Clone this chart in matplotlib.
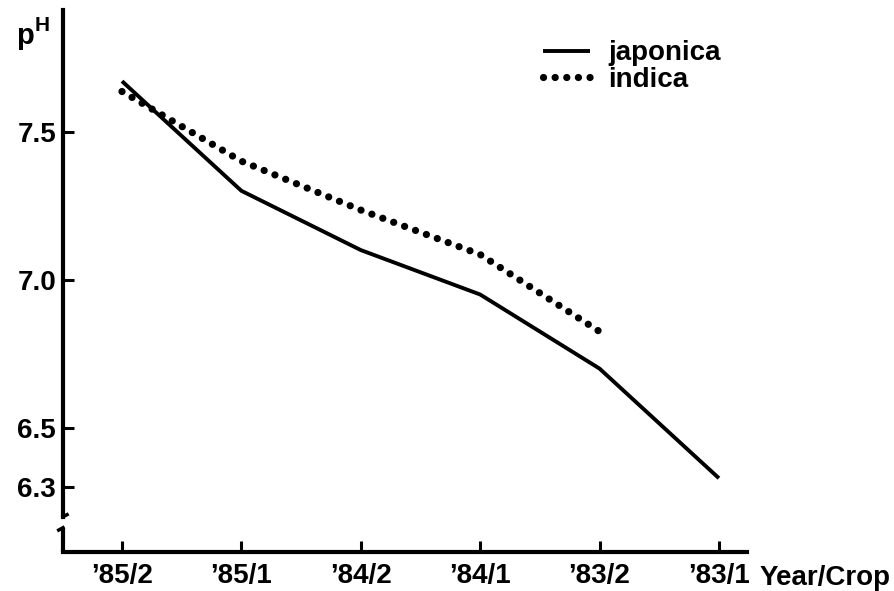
import matplotlib
matplotlib.use("Agg")
import matplotlib.pyplot as plt

plt.rcParams['font.family'] = ['Liberation Sans', 'DejaVu Sans']

# data
crops = ["’85/2", "’85/1", "’84/2", "’84/1", "’83/2", "’83/1"]
japonica = [7.67, 7.30, 7.10, 6.95, 6.70, 6.33]
indica = [7.635, 7.40, 7.235, 7.085, 6.825]
yticks = [6.3, 6.5, 7.0, 7.5]
ytick_labels = ["6.3", "6.5", "7.0", "7.5"]

fig = plt.figure(figsize=(8.95, 5.91), dpi=100)
ax = fig.add_axes([0.0704, 0.066, 0.7642, 0.917])

x = list(range(len(crops)))
ax.plot(x, japonica, color="black", lw=2.8, solid_capstyle="butt",
        label="japonica")
ax.plot(x[:len(indica)], indica, color="black", lw=5.2,
        linestyle=(0, (0.01, 1.6)), dash_capstyle="round", label="indica")

ax.set_xlim(-0.494, 5.235)
ax.set_ylim(6.081, 7.91)

ax.set_xticks(x)
ax.set_xticklabels(crops, fontsize=20, fontweight="bold")
ax.set_yticks(yticks)
ax.set_yticklabels(ytick_labels, fontsize=20, fontweight="bold")
ax.tick_params(direction="in", length=8, width=2.2, pad=5)
ax.tick_params(axis="x", pad=8)

for s in ["top", "right"]:
    ax.spines[s].set_visible(False)
ax.spines["bottom"].set_linewidth(3)
ax.spines["left"].set_linewidth(3)
ax.spines["left"].set_bounds(6.20, 7.91)

# lower piece of the broken y axis with little break hooks
ax.plot([-0.494, -0.494], [6.081, 6.163], color="black", lw=3,
        clip_on=False, solid_capstyle="butt")
ax.plot([-0.494, -0.53], [6.163, 6.155], color="black", lw=2.5, clip_on=False)
ax.plot([-0.494, -0.46], [6.20, 6.207], color="black", lw=2.5, clip_on=False)

ax.legend(loc="upper left", bbox_to_anchor=(0.665, 0.99), frameon=False,
          handlelength=1.7, handletextpad=0.65, labelspacing=0.02,
          prop={"size": 20, "weight": "bold"})

ax.text(1.018, -0.048, "Year/Crop", transform=ax.transAxes, fontsize=20,
        fontweight="bold", ha="left", va="center")
fig.text(0.018, 0.925, "p", fontsize=21, fontweight="bold")
fig.text(0.039, 0.948, "H", fontsize=15, fontweight="bold")

fig.savefig("out.png", dpi=100)
